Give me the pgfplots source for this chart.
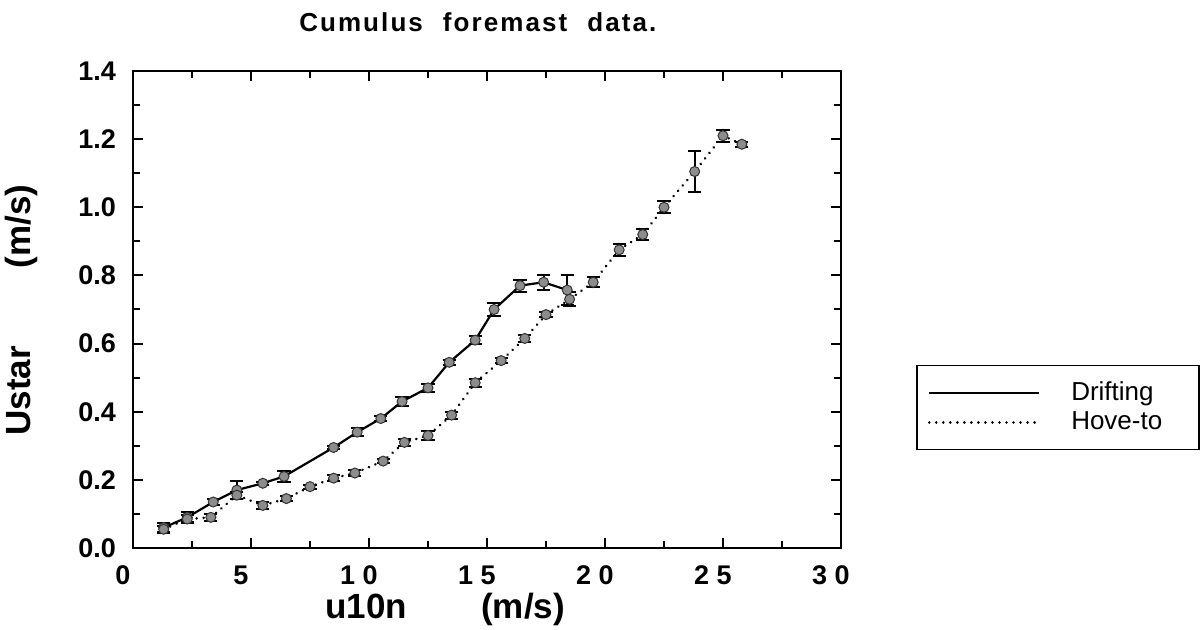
\documentclass[border=0pt]{standalone}
\usepackage{fontspec}
\setmainfont{Liberation Sans}
\usepackage{pgfplots}
\usepackage{pgfplotstable}
\pgfplotsset{compat=1.18}

\pgfplotstableread{
x y e
1.3 0.06 0.012
2.3 0.09 0.015
3.4 0.135 0.01
4.4 0.17 0.027
5.5 0.19 0.005
6.4 0.21 0.015
8.5 0.295 0.005
9.5 0.34 0.012
10.5 0.38 0.006
11.4 0.43 0.012
12.5 0.47 0.012
13.4 0.545 0.008
14.5 0.61 0.012
15.3 0.70 0.02
16.4 0.77 0.018
17.4 0.78 0.022
18.4 0.757 0.043
}\drifting

\pgfplotstableread{
x y e
1.3 0.055 0.01
2.3 0.085 0.012
3.3 0.09 0.01
4.4 0.155 0.01
5.5 0.125 0.01
6.5 0.145 0.008
7.5 0.18 0.006
8.5 0.205 0.008
9.4 0.22 0.008
10.6 0.255 0.005
11.5 0.31 0.01
12.5 0.33 0.012
13.5 0.39 0.01
14.5 0.485 0.012
15.6 0.55 0.008
16.6 0.615 0.01
17.5 0.685 0.008
18.5 0.73 0.02
19.5 0.78 0.015
20.6 0.875 0.018
21.6 0.92 0.015
22.5 1.0 0.018
23.8 1.105 0.06
25.0 1.21 0.018
25.8 1.185 0.008
}\hoveto

\begin{document}
\begin{tikzpicture}
\useasboundingbox (0,0) rectangle (601pt,315pt);
\begin{axis}[
  at={(66.5pt,41pt)}, anchor=south west,
  width=354pt, height=238.5pt, scale only axis,
  xmin=0, xmax=30, ymin=0, ymax=1.4,
  xtick={0,5,10,15,20,25,30},
  xticklabels={0,5,1 0,1 5,2 0,2 5,3 0},
  minor xtick={2.5,7.5,12.5,17.5,22.5,27.5},
  ytick={0,0.2,0.4,0.6,0.8,1.0,1.2,1.4},
  yticklabels={0.0,0.2,0.4,0.6,0.8,1.0,1.2,1.4},
  minor ytick={0.1,0.3,0.5,0.7,0.9,1.1,1.3},
  /pgf/number format/assume math mode=true,
  tick align=inside,
  major tick length=5pt, minor tick length=3.5pt,
  axis line style={line width=1.2pt},
  every tick/.style={black, line width=1pt},
  ticklabel style={font=\bfseries\fontsize{13.5}{15}\selectfont},
  yticklabel style={xshift=-5pt},
  xticklabel style={yshift=-5.5pt, xshift=-5pt},
  every axis title shift=0pt,
  title={Cumulus\hspace{10pt}foremast\hspace{10pt}data.},
  title style={at={(axis description cs:0.487,1.103)}, anchor=center,
    font=\bfseries\fontsize{13}{15}\selectfont\addfontfeature{LetterSpace=8}},
  xlabel={u10n\hspace{37pt}(m/s)},
  xlabel style={at={(axis description cs:0.441,-0.128)}, anchor=center,
    font=\bfseries\fontsize{17.5}{19}\selectfont},
  ylabel={Ustar\hspace{39pt}(m/s)},
  ylabel style={at={(axis description cs:-0.158,0.499)}, anchor=center, rotate=0,
    font=\bfseries\fontsize{17.5}{19}\selectfont},
  legend style={at={(axis description cs:1.106,0.384)}, anchor=north west,
    draw=black, line width=0.8pt, inner xsep=5.5pt, inner ysep=7pt,
    /tikz/column sep=0pt, /tikz/row sep=1pt,
    font=\fontsize{13}{14.5}\selectfont,
    nodes={inner sep=0pt, text height=10.5pt, text depth=3pt, text width=58.5pt, align=left}},
  legend cell align=left,
  legend image code/.code={\draw[#1] (0pt,0pt) -- (55pt,0pt); \path[draw=none] (0pt,0pt) -- (71pt,0pt);},
]
\addplot[black, line width=1.1pt,
  mark=*, mark size=2.5pt, mark options={solid, fill=black!45, draw=black!80, line width=0.5pt},
  error bars/.cd, y dir=both, y explicit,
  error bar style={solid, black, line width=1pt},
  error mark options={rotate=90, mark size=3.3pt, line width=1pt, black}]
  table[x=x, y=y, y error=e] {\drifting};
\addlegendentry{Drifting}
\addplot[black, line width=1.4pt, line cap=round, dash pattern=on 0.01pt off 3.5pt,
  mark=*, mark size=2.5pt, mark options={solid, fill=black!45, draw=black!80, line width=0.5pt},
  error bars/.cd, y dir=both, y explicit,
  error bar style={solid, black, line width=1pt},
  error mark options={rotate=90, mark size=3.3pt, line width=1pt, black}]
  table[x=x, y=y, y error=e] {\hoveto};
\addlegendentry{Hove-to}
\end{axis}
\end{tikzpicture}
\end{document}
